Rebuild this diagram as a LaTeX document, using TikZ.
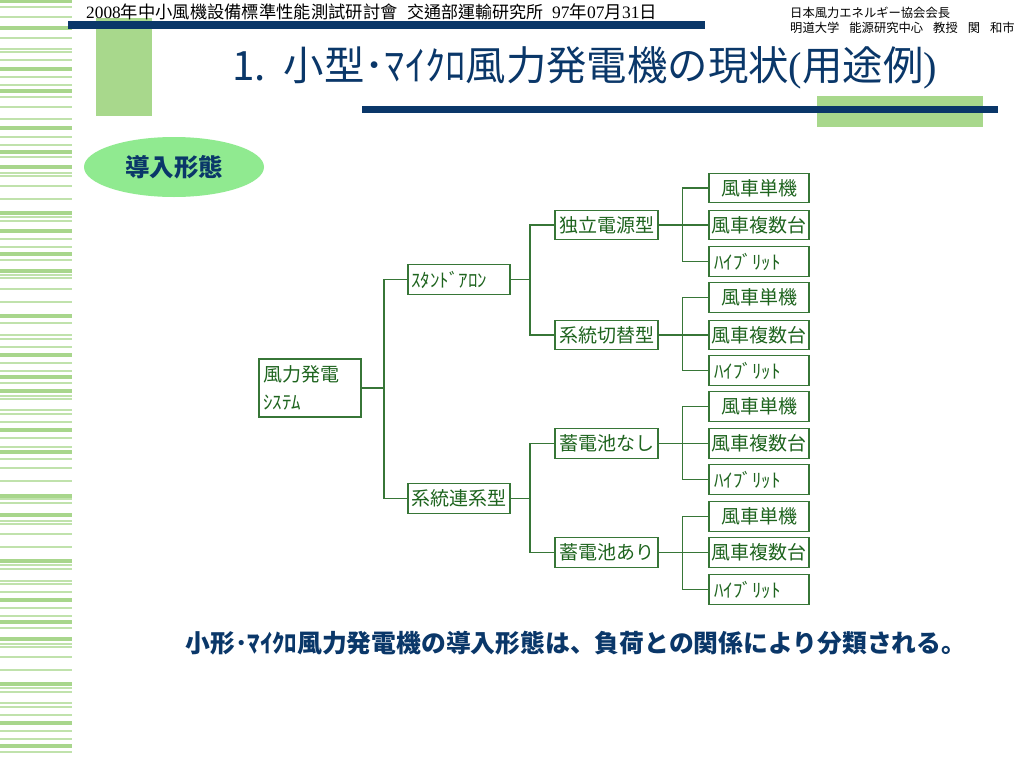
\documentclass[tikz,border=0pt]{standalone}
\usepackage{fontspec}
\setmainfont{Liberation Serif}
\newfontfamily\jp{Noto Sans CJK JP}
\newfontfamily\tc{Noto Sans CJK TC}
\usetikzlibrary{shapes.geometric}
\definecolor{navy}{RGB}{10,55,105}
\definecolor{lgreen}{RGB}{168,216,140}
\definecolor{sgreenA}{RGB}{168,214,140}
\definecolor{sgreenB}{RGB}{192,226,172}
\definecolor{ovalgreen}{RGB}{144,234,144}
\definecolor{treetext}{RGB}{30,100,30}
\definecolor{treeline}{RGB}{55,118,55}
\tikzset{
  treebox/.style={draw=treeline, line width=1.3pt, text=treetext, inner sep=0pt,
    font=\jp\fontsize{19}{28}\selectfont, minimum height=29.5pt},
  midbox/.style={treebox, minimum width=103pt},
  leafbox/.style={treebox, minimum width=100pt},
  conn/.style={draw=treeline, line width=1.3pt},
  thickstripe/.style={fill=sgreenA},
  thinstripe/.style={fill=sgreenB}
}
\begin{document}
\begin{tikzpicture}[x=1pt,y=-1pt]
\useasboundingbox (0,0) rectangle (1024,768);
\fill[white] (0,0) rectangle (1024,768);
% left stripes
\foreach \s in {1,28,69,91,128,152,167,213,231,254,271,316,355,377,391,430,452,496,515,561,600,622,639,684,723,746}
  \fill[thickstripe] (0,\s-1.8) rectangle (72,\s+1.8);
\foreach \s in {7,17,38,49,52,60,77,85,97,107,119,137,145,157,173,176,186,199,217,221,239,247,260,275,278,289,302,323,335,339,347,363,371,383,396,399,410,414,422,438,447,459,468,481,499,503,521,524,534,547,565,569,581,584,592,608,616,628,644,647,657,670,688,692,703,707,715,731,739,752}
  \fill[thinstripe] (0,\s-0.8) rectangle (72,\s+0.8);
% header decoration
\fill[lgreen] (96,18) rectangle (152,116);
\fill[navy] (68,21) rectangle (705,29);
\fill[lgreen] (817,96) rectangle (983,127);
\fill[navy] (362,106) rectangle (998,113);
% header texts
\node[anchor=west, inner sep=0pt, font=\fontsize{17.3}{18}\selectfont] (h1) at (86,12) {2008{\tc 年中小風機設備標準性能測試研討會}};
\node[anchor=west, inner sep=0pt, font=\tc\fontsize{17}{18}\selectfont] (h2) at (407,12) {交通部運輸研究所};
\node[anchor=west, inner sep=0pt, font=\fontsize{17.5}{18}\selectfont] (h3) at (552,12) {97{\tc 年}07{\tc 月}31{\tc 日}};
\node[anchor=west, inner sep=0pt, font=\jp\fontsize{12.3}{13}\selectfont] (a1) at (790,13) {日本風力エネルギー協会会長};
\node[anchor=west, inner sep=0pt, font=\jp\fontsize{12.3}{13}\selectfont] (a2) at (790,28) {明道大学\hspace{10pt}能源研究中心\hspace{10pt}教授\hspace{10pt}関\hspace{10pt}和市};
% title
\node[anchor=west, inner sep=0pt, text=navy, font=\jp\fontsize{40.4}{41}\selectfont] (title) at (232,68) {1.\hspace{18pt}小型･ﾏｲｸﾛ風力発電機の現状{\rmfamily(}用途例{\rmfamily)}};
% oval
\node[ellipse, fill=ovalgreen, minimum width=180pt, minimum height=60pt, text=navy, font=\jp\bfseries\fontsize{24.5}{25}\selectfont] (oval) at (174,167) {導入形態};
% tree nodes
\node[treebox, minimum width=102pt, minimum height=58pt, text width=94pt, align=left] (root) at (310,388) {風力発電\\ｼｽﾃﾑ};
\node[treebox, minimum width=102pt, text width=96pt, align=left] (sa) at (459,279.5) {ｽﾀﾝﾄﾞｱﾛﾝ};
\node[treebox, minimum width=102pt] (gr) at (459,498.5) {系統連系型};
\node[midbox] (m1) at (606.5,225) {独立電源型};
\node[midbox] (m2) at (606.5,335) {系統切替型};
\node[midbox] (m3) at (606.5,443.5) {蓄電池なし};
\node[midbox] (m4) at (606.5,552.5) {蓄電池あり};
\foreach \g/\ya/\yb/\yc in {1/188/225/261.5, 2/297.5/335/370.5, 3/406.5/443.5/479.5, 4/516.5/552.5/589.5}{
  \node[leafbox] (l\g a) at (759,\ya) {風車単機};
  \node[leafbox] (l\g b) at (759,\yb) {風車複数台};
  \node[leafbox, text width=90pt, align=left] (l\g c) at (759,\yc) {ﾊｲﾌﾞﾘｯﾄ};
}
% connectors
\coordinate (t1) at (384,388);
\draw[conn] (root.east) -- (t1);
\draw[conn] (sa.west) -| (t1);
\draw[conn] (gr.west) -| (t1);
\coordinate (t2) at (530,279.5);
\draw[conn] (sa.east) -- (t2);
\draw[conn] (m1.west) -| (t2);
\draw[conn] (m2.west) -| (t2);
\coordinate (t2b) at (530,498.5);
\draw[conn] (gr.east) -- (t2b);
\draw[conn] (m3.west) -| (t2b);
\draw[conn] (m4.west) -| (t2b);
\foreach \g in {1,2,3,4}{
  \draw[conn] (m\g.east) -- (l\g b.west);
  \coordinate (t3\g) at ([xshift=-26pt]l\g b.west);
  \draw[conn] (l\g a.west) -| (t3\g);
  \draw[conn] (l\g c.west) -| (t3\g);
}
% bottom text
\node[inner sep=0pt, text=navy, font=\jp\bfseries\fontsize{24.8}{25}\selectfont] (bottom) at (576,643) {小形･ﾏｲｸﾛ風力発電機の導入形態は、負荷との関係により分類される。};
\end{tikzpicture}
\end{document}
